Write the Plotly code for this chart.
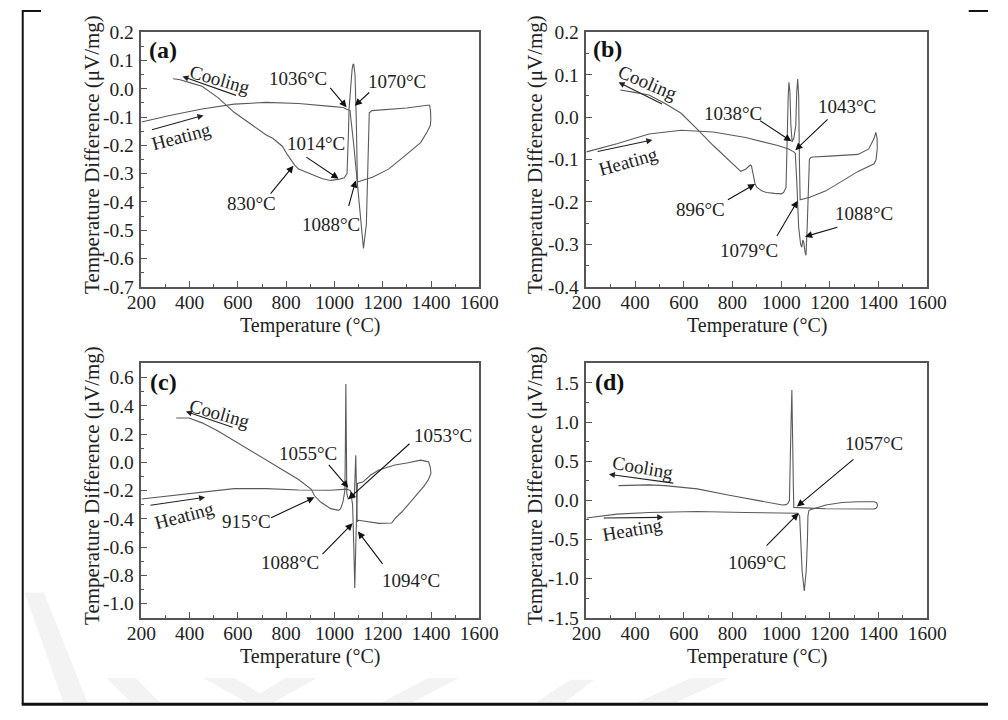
import plotly.graph_objects as go

# ---------------- data ----------------
# panel (a)
heat_a_T = [200, 317, 451, 584, 717, 851, 984, 1037, 1050, 1064, 1080, 1100, 1120, 1132, 1140, 1144, 1155, 1200, 1300, 1384, 1394, 1398, 1399]
heat_a_v = [-0.117, -0.094, -0.071, -0.054, -0.048, -0.052, -0.062, -0.066, -0.072, -0.076, -0.20, -0.38, -0.565, -0.48, -0.22, -0.085, -0.077, -0.074, -0.068, -0.058, -0.058, -0.08, -0.11]
cool_a_T = [1399, 1397, 1384, 1357, 1290, 1224, 1157, 1110, 1095, 1090, 1085, 1080, 1077, 1073, 1066, 1060, 1058, 1056, 1052, 1040, 1020, 1000, 984, 950, 917, 880, 851, 835, 824, 815, 804, 784, 760, 744, 717, 651, 584, 517, 451, 400, 360, 331]
cool_a_v = [-0.11, -0.13, -0.152, -0.19, -0.238, -0.284, -0.313, -0.325, -0.33, -0.10, 0.05, 0.085, 0.088, 0.07, -0.03, -0.075, -0.15, -0.25, -0.30, -0.315, -0.32, -0.322, -0.324, -0.318, -0.307, -0.295, -0.284, -0.27, -0.258, -0.245, -0.232, -0.203, -0.185, -0.175, -0.163, -0.123, -0.083, -0.031, 0.009, 0.022, 0.032, 0.036]

# panel (b)
heat_b_T = [200, 325, 457, 589, 721, 854, 986, 1030, 1052, 1058, 1064, 1072, 1080, 1085, 1089, 1093, 1098, 1102, 1107, 1112, 1116, 1122, 1131, 1200, 1316, 1360, 1382, 1389, 1394, 1395]
heat_b_v = [-0.082, -0.063, -0.040, -0.031, -0.035, -0.048, -0.067, -0.075, -0.082, -0.085, -0.15, -0.26, -0.30, -0.307, -0.29, -0.295, -0.318, -0.326, -0.26, -0.15, -0.10, -0.095, -0.094, -0.092, -0.088, -0.075, -0.05, -0.036, -0.05, -0.074]
cool_b_T = [1395, 1390, 1382, 1316, 1250, 1184, 1118, 1085, 1078, 1075, 1072, 1068, 1064, 1060, 1052, 1045, 1040, 1036, 1032, 1029, 1025, 1022, 1020, 1010, 1000, 973, 940, 920, 900, 893, 888, 883, 878, 873, 865, 854, 834, 810, 788, 721, 656, 589, 523, 457, 391, 339]
cool_b_v = [-0.074, -0.10, -0.11, -0.128, -0.151, -0.174, -0.189, -0.193, -0.195, -0.10, 0.05, 0.09, 0.06, -0.02, -0.05, -0.058, -0.02, 0.06, 0.082, 0.05, -0.05, -0.12, -0.166, -0.178, -0.181, -0.18, -0.178, -0.174, -0.165, -0.158, -0.14, -0.125, -0.115, -0.113, -0.117, -0.123, -0.128, -0.115, -0.105, -0.067, -0.029, 0.009, 0.032, 0.052, 0.059, 0.064]

# panel (c)
heat_c_T = [200, 317, 451, 584, 717, 851, 984, 1051, 1066, 1075, 1080, 1084, 1088, 1091, 1095, 1117, 1150, 1184, 1250, 1300, 1357, 1385, 1390, 1396, 1400]
heat_c_v = [-0.26, -0.237, -0.207, -0.186, -0.186, -0.196, -0.198, -0.19, -0.20, -0.30, -0.60, -0.89, -0.60, -0.30, -0.15, -0.14, -0.09, -0.054, -0.019, -0.005, 0.015, 0.005, 0.004, -0.03, -0.076]
cool_c_T = [1400, 1390, 1371, 1340, 1317, 1280, 1251, 1237, 1184, 1150, 1117, 1100, 1094, 1091, 1088, 1085, 1082, 1070, 1057, 1051, 1049, 1047, 1045, 1043, 1035, 1025, 1017, 1000, 984, 944, 917, 904, 851, 784, 717, 651, 584, 517, 451, 397, 344]
cool_c_v = [-0.076, -0.12, -0.168, -0.23, -0.283, -0.35, -0.397, -0.43, -0.432, -0.425, -0.413, -0.41, -0.42, -0.10, 0.05, -0.10, -0.25, -0.25, -0.26, -0.22, 0.10, 0.554, 0.10, -0.20, -0.28, -0.33, -0.34, -0.335, -0.328, -0.283, -0.237, -0.191, -0.122, -0.053, 0.015, 0.084, 0.153, 0.222, 0.279, 0.313, 0.313]

# panel (d)
heat_d_T = [200, 325, 457, 655, 853, 1052, 1068, 1076, 1080, 1086, 1095, 1103, 1108, 1110, 1114, 1120, 1184, 1250, 1316, 1382, 1392, 1396, 1395]
heat_d_v = [-0.225, -0.176, -0.155, -0.143, -0.155, -0.163, -0.165, -0.20, -0.50, -0.90, -1.156, -0.90, -0.50, -0.20, -0.13, -0.12, -0.06, -0.027, -0.018, -0.018, -0.03, -0.06, -0.08]
cool_d_T = [1395, 1390, 1382, 1316, 1250, 1184, 1119, 1080, 1060, 1052, 1050, 1047, 1044, 1040, 1037, 1034, 1028, 1020, 1005, 985, 919, 787, 655, 523, 457, 332]
cool_d_v = [-0.08, -0.10, -0.11, -0.112, -0.112, -0.108, -0.10, -0.095, -0.10, -0.09, 0.20, 0.90, 1.409, 0.90, 0.30, 0.0, -0.04, -0.055, -0.06, -0.05, -0.01, 0.064, 0.147, 0.188, 0.197, 0.188]

# axis ticks
x_ticks = [200, 400, 600, 800, 1000, 1200, 1400, 1600]
y_ticks_a = [0.2, 0.1, 0.0, -0.1, -0.2, -0.3, -0.4, -0.5, -0.6, -0.7]
y_labels_a = ["0.2", "0.1", "0.0", "-0.1", "-0.2", "-0.3", "-0.4", "-0.5", "-0.6", "-0.7"]
y_ticks_b = [0.2, 0.1, 0.0, -0.1, -0.2, -0.3, -0.4]
y_labels_b = ["0.2", "0.1", "0.0", "-0.1", "-0.2", "-0.3", "-0.4"]
y_ticks_c = [0.6, 0.4, 0.2, 0.0, -0.2, -0.4, -0.6, -0.8, -1.0]
y_labels_c = ["0.6", "0.4", "0.2", "0.0", "-0.2", "-0.4", "-0.6", "-0.8", "-1.0"]
y_ticks_d = [1.5, 1.0, 0.5, 0.0, -0.5, -1.0, -1.5]
y_labels_d = ["1.5", "1.0", "0.5", "0.0", "-0.5", "-1.0", "-1.5"]

# peak annotations: (label, tip T, tip v, tail T, tail v, label T, label v)
marks_a = [
    ("1036°C", 1050, -0.065, 977, 0.009, 850, 0.038),
    ("1070°C", 1084, -0.060, 1150, -0.008, 1257, 0.027),
    ("1014°C", 1017, -0.318, 877, -0.238, 924, -0.192),
    ("830°C", 830, -0.272, 730, -0.376, 657, -0.404),
    ("1088°C", 1088, -0.324, 1057, -0.420, 984, -0.479),
]
marks_b = [
    ("1038°C", 1042, -0.057, 907, -0.006, 801, 0.009),
    ("1043°C", 1058, -0.078, 1197, -0.002, 1270, 0.025),
    ("896°C", 893, -0.158, 775, -0.197, 669, -0.219),
    ("1079°C", 1068, -0.197, 979, -0.284, 867, -0.315),
    ("1088°C", 1098, -0.282, 1237, -0.259, 1342, -0.227),
]
marks_c = [
    ("1055°C", 1057, -0.18, 971, -0.007, 891, 0.061),
    ("1053°C", 1057, -0.26, 1317, 0.141, 1451, 0.187),
    ("915°C", 917, -0.248, 731, -0.397, 637, -0.42),
    ("1088°C", 1075, -0.432, 944, -0.661, 817, -0.707),
    ("1094°C", 1097, -0.489, 1204, -0.73, 1317, -0.833),
]
marks_d = [
    ("1057°C", 1065, -0.08, 1303, 0.54, 1382, 0.726),
    ("1069°C", 1072, -0.163, 934, -0.598, 901, -0.80),
]

# direction labels: (text, label T, label v, angle, arrow tail T, tail v, head T, head v)
dirs_a = [("Cooling", 524, 0.032, 16, 598, -0.025, 370, 0.044),
          ("Heating", 364, -0.169, -15, 237, -0.146, 457, -0.094)]
dirs_b = [("Cooling", 451, 0.082, 23, 517, 0.029, 332, 0.082),
          ("Heating", 372, -0.105, -16, 240, -0.082, 471, -0.054)]
dirs_c = [("Cooling", 524, 0.348, 16, 584, 0.245, 384, 0.359),
          ("Heating", 377, -0.374, -15, 231, -0.306, 464, -0.248)]
dirs_d = [("Cooling", 431, 0.416, 10, 563, 0.217, 292, 0.333),
          ("Heating", 390, -0.37, -10, 265, -0.225, 516, -0.217)]

panel_tags = ["(a)", "(b)", "(c)", "(d)"]
tag_pos = [(289, 0.138), (288, 0.161), (291, 0.566), (293, 1.51)]

x_title = "Temperature (°C)"
y_title = "Temperature Difference (μV/mg)"

# ---------------- layout geometry ----------------
W, H = 1008, 720
FONT = "Liberation Serif"


def px(x):
    return x / W


def py(y):
    return 1 - y / H


cols = [(131, 481), (592, 945)]
rows = [(23, 285), (364, 626)]

fig = go.Figure()
line_style = dict(color="#5a5a5a", width=1.1)

panels = [
    (heat_a_T, heat_a_v, cool_a_T, cool_a_v, y_ticks_a, y_labels_a, [-0.7, 0.2], 0.05, marks_a, dirs_a),
    (heat_b_T, heat_b_v, cool_b_T, cool_b_v, y_ticks_b, y_labels_b, [-0.4, 0.2], 0.05, marks_b, dirs_b),
    (heat_c_T, heat_c_v, cool_c_T, cool_c_v, y_ticks_c, y_labels_c, [-1.1, 0.7], 0.1, marks_c, dirs_c),
    (heat_d_T, heat_d_v, cool_d_T, cool_d_v, y_ticks_d, y_labels_d, [-1.5, 1.75], 0.25, marks_d, dirs_d),
]

annotations = []
for i, (hT, hv, cT, cv, yt, yl, yr, ymin_step, marks, dirs) in enumerate(panels):
    n = "" if i == 0 else str(i + 1)
    xr_, yr_ = "x" + n, "y" + n
    c0, c1 = cols[i % 2]
    r0, r1 = rows[i // 2]

    fig.add_trace(go.Scatter(x=hT, y=hv, mode="lines", line=line_style,
                             xaxis=xr_, yaxis=yr_, showlegend=False, hoverinfo="skip"))
    fig.add_trace(go.Scatter(x=cT, y=cv, mode="lines", line=line_style,
                             xaxis=xr_, yaxis=yr_, showlegend=False, hoverinfo="skip"))

    axis_common = dict(showline=True, linecolor="#555", linewidth=1.5, mirror=True,
                       ticks="inside", ticklen=6, tickwidth=1.2, tickcolor="#555",
                       showgrid=False, zeroline=False,
                       tickfont=dict(family=FONT, size=19.5, color="#222"))
    fig.update_layout(**{
        "xaxis" + n: dict(axis_common, domain=[px(c0), px(c1)], range=[200, 1600],
                          tickvals=x_ticks, ticktext=[str(t) for t in x_ticks],
                          ticklabelstandoff=-3,
                          minor=dict(dtick=100, tick0=200, ticks="inside", ticklen=3,
                                     tickcolor="#555", tickwidth=1),
                          anchor=yr_, fixedrange=True),
        "yaxis" + n: dict(axis_common, domain=[py(r1), py(r0)], range=yr,
                          tickvals=yt, ticktext=yl, ticklabelstandoff=2,
                          minor=dict(dtick=ymin_step, tick0=0, ticks="inside", ticklen=3,
                                     tickcolor="#555", tickwidth=1),
                          anchor=xr_, fixedrange=True),
    })

    # peak arrows and labels
    for (txt, tx, tv, ax, av, lx, lv) in marks:
        annotations.append(dict(x=tx, y=tv, ax=ax, ay=av, xref=xr_, yref=yr_,
                                axref=xr_, ayref=yr_, text="", showarrow=True,
                                arrowhead=2, arrowsize=1.3, arrowwidth=1.1,
                                arrowcolor="#111", standoff=0, startstandoff=0))
        annotations.append(dict(x=lx, y=lv, xref=xr_, yref=yr_, text=txt,
                                xanchor="center", yanchor="middle",
                                showarrow=False, font=dict(family=FONT, size=19, color="#222")))

    # heating / cooling direction labels
    for (txt, lx, lv, ang, tT, tv, hTT, hvv) in dirs:
        annotations.append(dict(x=lx, y=lv, xref=xr_, yref=yr_, text=txt, textangle=ang,
                                xanchor="center", yanchor="middle",
                                showarrow=False, font=dict(family=FONT, size=19, color="#222")))
        annotations.append(dict(x=hTT, y=hvv, ax=tT, ay=tv, xref=xr_, yref=yr_,
                                axref=xr_, ayref=yr_, text="", showarrow=True,
                                arrowhead=2, arrowsize=1.1, arrowwidth=1.1,
                                arrowcolor="#222", standoff=0, startstandoff=0))

    # panel tag
    tx, tv = tag_pos[i]
    annotations.append(dict(x=tx, y=tv, xref=xr_, yref=yr_, text="<b>" + panel_tags[i] + "</b>",
                            xanchor="center", yanchor="middle",
                            showarrow=False, font=dict(family=FONT, size=24, color="#111")))

    # axis titles
    annotations.append(dict(x=px((c0 + c1) / 2), y=py(r1 + 40), xref="paper", yref="paper",
                            xanchor="center", yanchor="middle",
                            text=x_title, showarrow=False,
                            font=dict(family=FONT, size=20, color="#222")))
    ty_x = 79 if i % 2 == 0 else 538
    annotations.append(dict(x=px(ty_x), y=py((r0 + r1) / 2 - 5), xref="paper", yref="paper",
                            xanchor="center", yanchor="middle",
                            text=y_title, textangle=-90, showarrow=False,
                            font=dict(family=FONT, size=21, color="#222")))

# page frame and faint background marks
shapes = [
    dict(type="line", xref="paper", yref="paper", x0=px(8), x1=px(8), y0=py(0), y1=py(715),
         line=dict(color="#111", width=2)),
    dict(type="line", xref="paper", yref="paper", x0=px(7), x1=px(1008), y0=py(715), y1=py(715),
         line=dict(color="#111", width=3)),
    dict(type="line", xref="paper", yref="paper", x0=px(8), x1=px(27), y0=py(1), y1=py(1),
         line=dict(color="#111", width=2)),
    dict(type="line", xref="paper", yref="paper", x0=px(988), x1=px(1008), y0=py(1), y1=py(1),
         line=dict(color="#111", width=2)),
]


def poly(pts):
    d = "M " + " L ".join(f"{px(x):.5f},{py(y):.5f}" for x, y in pts) + " Z"
    return dict(type="path", xref="paper", yref="paper", path=d,
                fillcolor="#f3f3f3", line=dict(width=0), layer="below")


shapes += [
    poly([(10, 600), (30, 600), (75, 713), (50, 713)]),
    poly([(95, 688), (125, 688), (150, 713), (120, 713)]),
    poly([(195, 688), (228, 688), (254, 704), (280, 688), (313, 688), (268, 713), (240, 713)]),
    poly([(380, 713), (412, 713), (460, 688), (428, 688)]),
    poly([(540, 713), (570, 713), (600, 690), (575, 690)]),
    poly([(645, 713), (685, 713), (740, 688), (700, 688)]),
]

fig.update_layout(width=W, height=H, autosize=False,
                  margin=dict(l=0, r=0, t=0, b=0),
                  paper_bgcolor="white", plot_bgcolor="rgba(0,0,0,0)",
                  annotations=annotations, shapes=shapes, showlegend=False)

fig.write_html("out.html", config={"displayModeBar": False})
